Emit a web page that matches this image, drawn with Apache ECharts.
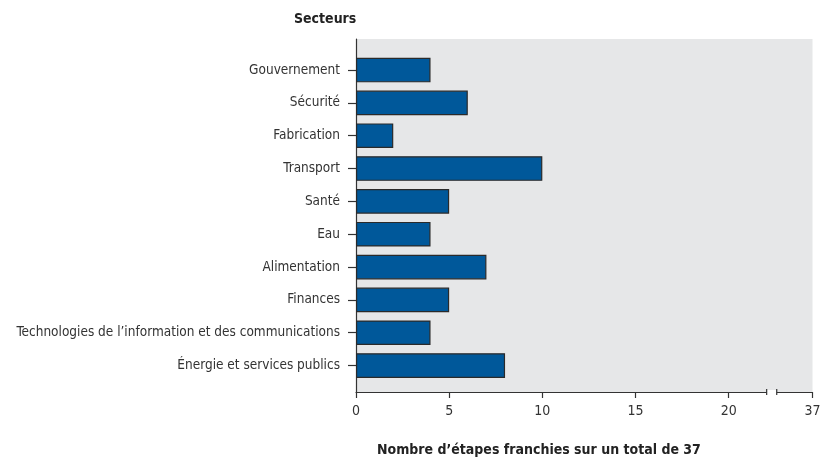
<!DOCTYPE html>
<html>
<head>
<meta charset="utf-8">
<script src="https://cdn.jsdelivr.net/npm/echarts@6/dist/echarts.min.js"></script>
<style>html,body{margin:0;padding:0;background:#fff}#c{width:823px;height:461px}</style>
</head>
<body>
<div id="c"></div>
<script>
const categories = ['Gouvernement','Sécurité','Fabrication','Transport','Santé','Eau','Alimentation','Finances','Technologies de l\u2019information et des communications','Énergie et services publics'];
const values = [4, 6, 2, 10, 5, 4, 7, 5, 4, 8];
const tickValues = [0, 5, 10, 15, 20, 24.5];
const tickLabels = ['0', '5', '10', '15', '20', '37'];
const axisBreak = [22.04, 22.58];
const axisMax = 24.5;

const FONT = '"DejaVu Sans Condensed", sans-serif';
const chart = echarts.init(document.getElementById('c'));
chart.setOption({
  animation: false,
  title: [
    {text: 'Secteurs', left: 289, top: 7, textStyle: {fontFamily: FONT, fontSize: 14, fontWeight: 'bold', color: '#222'}},
    {text: 'Nombre d\u2019étapes franchies sur un total de 37', left: 372, top: 438, textStyle: {fontFamily: FONT, fontSize: 14, fontWeight: 'bold', color: '#222'}}
  ],
  grid: [
    {left: 356, right: 10.5, top: 39, bottom: 69, show: true, backgroundColor: '#e6e7e8', borderWidth: 0, containLabel: false, outerBoundsMode: 'none'},
    {left: 356, right: 10.5, top: 53.6, bottom: 79, containLabel: false, outerBoundsMode: 'none'}
  ],
  xAxis: [
    {gridIndex: 0, type: 'value', min: 0, max: axisMax,
      axisLine: {show: true, lineStyle: {color: '#333', width: 1.2}},
      axisTick: {show: true, length: 6, lineStyle: {color: '#333', width: 1.2}, customValues: tickValues},
      axisLabel: {show: true, customValues: tickValues, margin: 12, fontFamily: FONT, fontSize: 14, color: '#333',
        formatter: function (v) { const i = tickValues.indexOf(v); return i >= 0 ? tickLabels[i] : ''; }},
      splitLine: {show: false}},
    {gridIndex: 1, type: 'value', min: 0, max: axisMax, show: false}
  ],
  yAxis: [
    {gridIndex: 0, type: 'value', min: 0, max: 1,
      axisLine: {show: true, lineStyle: {color: '#333', width: 1.2}},
      axisTick: {show: false}, axisLabel: {show: false}, splitLine: {show: false}},
    {gridIndex: 1, type: 'category', data: categories, inverse: true,
      axisLine: {show: false},
      axisTick: {show: true, alignWithLabel: true, length: 8, lineStyle: {color: '#333', width: 1.2}},
      axisLabel: {margin: 16, fontFamily: FONT, fontSize: 13.5, color: '#333'}}
  ],
  series: [
    {type: 'bar', xAxisIndex: 1, yAxisIndex: 1, data: values, barWidth: '75%',
      itemStyle: {color: '#00589a', borderColor: '#2a2a2a', borderWidth: 1.2}},
    {type: 'custom', xAxisIndex: 0, yAxisIndex: 0, clip: false, z: 5, silent: true,
      data: [axisBreak],
      renderItem: function (params, api) {
        const p1 = api.coord([api.value(0), 0]);
        const p2 = api.coord([api.value(1), 0]);
        return {type: 'group', children: [
          {type: 'rect', shape: {x: p1[0], y: p1[1] - 2, width: p2[0] - p1[0], height: 4}, style: {fill: '#fff'}},
          {type: 'line', shape: {x1: p1[0], y1: p1[1] - 3, x2: p1[0], y2: p1[1] + 3}, style: {stroke: '#333', lineWidth: 1.2}},
          {type: 'line', shape: {x1: p2[0], y1: p2[1] - 3, x2: p2[0], y2: p2[1] + 3}, style: {stroke: '#333', lineWidth: 1.2}}
        ]};
      }}
  ]
});
</script>
</body>
</html>
